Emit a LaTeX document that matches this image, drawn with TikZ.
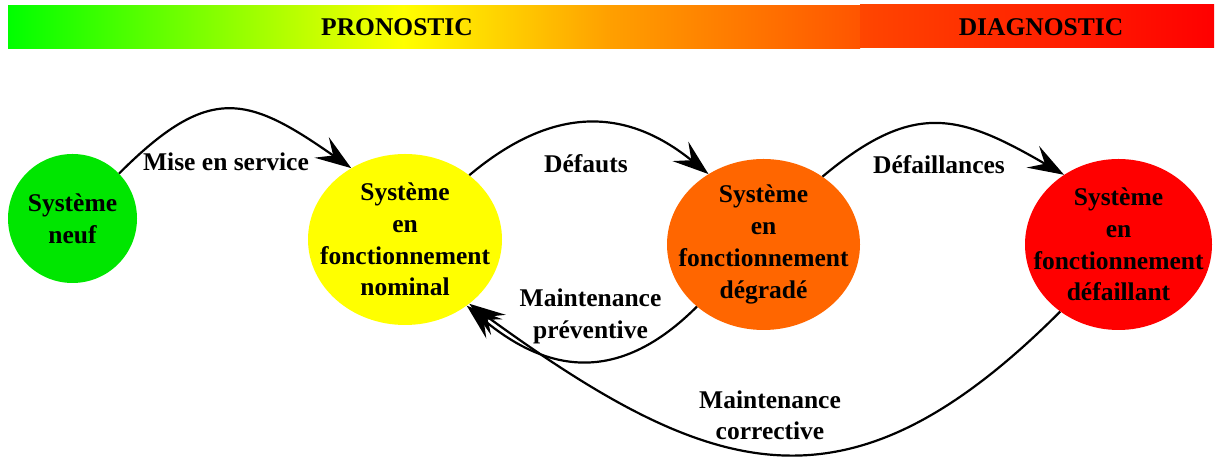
\documentclass[tikz,border=0pt]{standalone}
\usepackage{fontspec}
\setmainfont{Liberation Serif}
\usetikzlibrary{arrows.meta,shapes.geometric}

\definecolor{barvert}{RGB}{0,255,0}
\definecolor{barorange}{RGB}{255,160,0}
\definecolor{barfin}{RGB}{255,85,0}
\definecolor{diagdebut}{RGB}{255,70,0}
\definecolor{vertneuf}{RGB}{0,230,0}
\definecolor{jaunenom}{RGB}{255,255,0}
\definecolor{orangedeg}{RGB}{255,102,0}
\definecolor{rougedef}{RGB}{255,0,0}

\pgfdeclarehorizontalshading{pronostic}{100bp}{color(0bp)=(barvert); color(25bp)=(barvert); color(48.2bp)=(jaunenom); color(60.2bp)=(barorange); color(75bp)=(barfin); color(100bp)=(barfin)}

\begin{document}
\begin{tikzpicture}[x=1pt,y=1pt,
	etat/.style={ellipse,inner sep=0pt,minimum width=194pt,minimum height=171pt},
	titre/.style={align=center,font=\fontsize{25.5}{31.7}\selectfont\bfseries},
	fleche/.style={line width=2.2pt,-{Stealth[length=36pt,width=25pt,inset=14pt]}}]
	\useasboundingbox (0,0) rectangle (1216,457);
	\shade[shading=pronostic] (8,408) rectangle (860,451);
	\shade[left color=diagdebut,right color=rougedef] (860,409) rectangle (1214,452);
	\node[titre] (pronostic) at (397,430) {PRONOSTIC};
	\node[titre] (diagnostic) at (1041,430) {DIAGNOSTIC};
	\node[circle,inner sep=0pt,minimum size=129pt,fill=vertneuf] (neuf) at (72.5,238.5) {};
	\node[etat,fill=jaunenom] (nominal) at (405,217.5) {};
	\node[etat,fill=orangedeg,minimum width=193pt] (degrade) at (763.5,212.5) {};
	\node[etat,fill=rougedef,minimum width=187pt] (defaillant) at (1118.5,212.5) {};
	\node[titre] (tneuf) at (neuf) {Système\\neuf};
	\node[titre] (tnominal) at (nominal) {Système\\en\\fonctionnement\\nominal};
	\node[titre] (tdegrade) at (degrade) {Système\\en\\fonctionnement\\dégradé};
	\node[titre] (tdefaillant) at (defaillant) {Système\\en\\fonctionnement\\défaillant};
	\draw[fleche] (neuf.44) to[out=45,in=145,looseness=1.4] (nominal.127);
	\draw[fleche] (nominal.45) to[out=40,in=141,looseness=1.15] (degrade.128);
	\draw[fleche] (degrade.49) to[out=40,in=150,looseness=1.27] (defaillant.128);
	\draw[fleche] (degrade.223) to[out=225,in=-40,looseness=1.2] (nominal.-47);
	\draw[fleche] (defaillant.229) to[out=225,in=-36,looseness=1.3] (nominal.-45);
	\node[titre] (mise) at (226,295.5) {Mise en service};
	\node[titre] (defauts) at (586,293) {Défauts};
	\node[titre] (defaillances) at (939,292) {Défaillances};
	\node[titre] (preventive) at (590.5,140.5) {Maintenance\\préventive};
	\node[titre] (corrective) at (770,41.8) {Maintenance\\corrective};
\end{tikzpicture}
\end{document}
